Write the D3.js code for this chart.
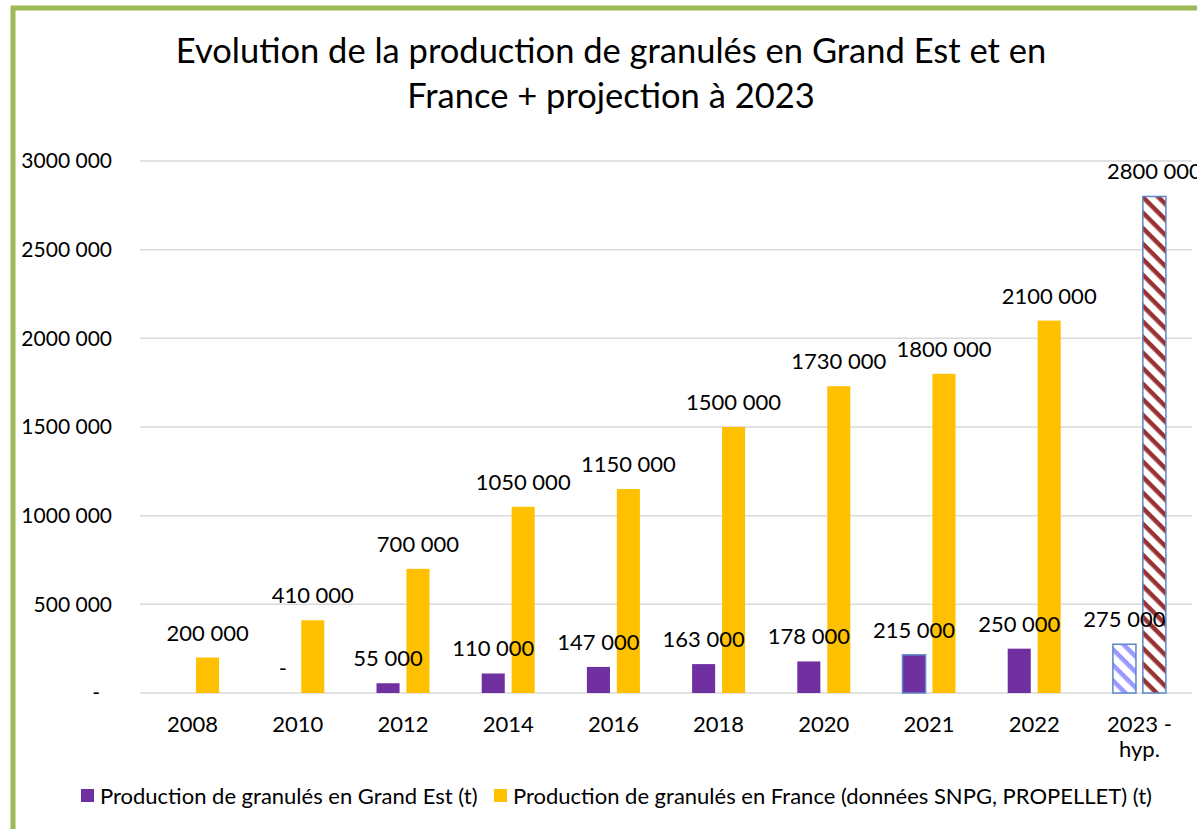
<!doctype html>
<meta charset="utf-8">
<head>
<script src="https://d3js.org/d3.v7.min.js"></script>
<style>
  body { margin: 0; background: #fff; }
  text { font-family: Lato, "Open Sans", sans-serif; fill: #000; }
</style>
</head>
<body>
<svg width="1197" height="829"></svg>
<script>
    // chart values
    let years = ["2008", "2010", "2012", "2014", "2016", "2018", "2020", "2021", "2022", "2023 - hyp."];
    let grandEst = [null, 0, 55000, 110000, 147000, 163000, 178000, 215000, 250000, 275000];
    let france = [200000, 410000, 700000, 1050000, 1150000, 1500000, 1730000, 1800000, 2100000, 2800000];
    let yTicks = [0, 500000, 1000000, 1500000, 2000000, 2500000, 3000000];
    let seriesNames = ["Production de granulés en Grand Est (t)",
                       "Production de granulés en France (données SNPG, PROPELLET) (t)"];
    let projected = ["2023 - hyp."];
    let outlined = ["2021"];

    let svg = d3.select("svg");
    let fs = 22;

    // green frame
    svg.append("rect")
        .attr("x", 13).attr("y", 8)
        .attr("width", 1300).attr("height", 900)
        .attr("fill", "none")
        .attr("stroke", "#9BBB59")
        .attr("stroke-width", 5);

    // hatch patterns for the projected year
    let defs = svg.append("defs");
    let hatch = (id, color) => {
        let p = defs.append("pattern")
            .attr("id", id)
            .attr("patternUnits", "userSpaceOnUse")
            .attr("width", 11).attr("height", 11)
            .attr("patternTransform", "rotate(45)");
        p.append("rect").attr("width", 11).attr("height", 11).attr("fill", "#fff");
        p.append("rect").attr("width", 11).attr("height", 4.5).attr("fill", color);
    };
    hatch("hatch-ge", "#9999FF");
    hatch("hatch-fr", "#993333");

    // title
    let title = svg.append("text")
        .attr("text-anchor", "middle")
        .attr("font-size", 34.5);
    title.append("tspan").attr("x", 611).attr("y", 63)
        .text("Evolution de la production de granulés en Grand Est et en");
    title.append("tspan").attr("x", 611).attr("y", 108)
        .text("France + projection à 2023");

    let fmt = (v) => {
        if (v === 0) return "-";
        if (v < 1000) return String(v);
        return Math.floor(v / 1000) + " " + String(v % 1000).padStart(3, "0");
    };

    let x = d3.scaleBand().domain(years).range([140, 1192]);
    let y = d3.scaleLinear().domain([0, 3000000]).range([693, 161]);
    let x1 = d3.scaleBand().domain(["ge", "fr"]).range([-26.5, 26.5]).paddingInner(0.23);

    // gridlines
    svg.append("g").selectAll("line")
        .data(yTicks)
        .enter().append("line")
        .attr("x1", 140).attr("x2", 1192)
        .attr("y1", (d) => y(d)).attr("y2", (d) => y(d))
        .attr("stroke", "#D9D9D9")
        .attr("stroke-width", 1.5);

    // y axis labels
    let yAxis = svg.append("g")
        .attr("transform", "translate(112,0)")
        .call(d3.axisLeft(y).tickValues(yTicks).tickFormat(fmt).tickSize(0).tickPadding(0));
    yAxis.select(".domain").remove();
    yAxis.selectAll("text")
        .attr("font-size", 21)
        .attr("font-family", "Lato")
        .attr("fill", "#000")
        .attr("dx", (d) => d === 0 ? -12 : 0);

    // x axis labels
    let xAxis = svg.append("g")
        .attr("transform", "translate(0,693)")
        .call(d3.axisBottom(x).tickSize(0).tickFormat(""));
    xAxis.select(".domain").remove();
    xAxis.selectAll(".tick").each(function(d) {
        let parts = d.split(" - ");
        let t = d3.select(this).append("text")
            .attr("text-anchor", "middle")
            .attr("font-size", fs);
        parts.forEach((p, i) => {
            t.append("tspan")
                .attr("x", 0)
                .attr("y", 39 + i * 25)
                .text(i === 0 && parts.length > 1 ? p + " -" : p);
        });
    });

    let rows = years.map((yr, i) => ({ year: yr, ge: grandEst[i], fr: france[i] }));
    let colors = { ge: "#7030A0", fr: "#FFC000" };
    let keys = ["ge", "fr"];

    // bars first
    keys.forEach((key) => {
        let data = rows.filter((d) => d[key] !== null);
        svg.append("g").selectAll("rect")
            .data(data)
            .enter().append("rect")
            .attr("x", (d) => x(d.year) + x.bandwidth() / 2 + x1(key))
            .attr("width", x1.bandwidth())
            .attr("y", (d) => y(d[key]))
            .attr("height", (d) => y(0) - y(d[key]))
            .attr("fill", (d) => projected.includes(d.year) ? "url(#hatch-" + key + ")" : colors[key])
            .attr("stroke", (d) => {
                if (projected.includes(d.year)) return "#5B87C8";
                if (key === "ge" && outlined.includes(d.year)) return "#5B87C8";
                return "none";
            })
            .attr("stroke-width", 1.5);
    });

    // then data labels on top
    keys.forEach((key) => {
        let data = rows.filter((d) => d[key] !== null);
        svg.append("g").selectAll("text")
            .data(data)
            .enter().append("text")
            .attr("text-anchor", "middle")
            .attr("font-size", fs)
            .attr("x", (d) => x(d.year) + x.bandwidth() / 2 + x1(key) + x1.bandwidth() / 2)
            .attr("y", (d) => y(d[key]) - 17)
            .text((d) => fmt(d[key]));
    });

    // legend
    let legend = svg.append("g");
    let lx = [81, 494];
    seriesNames.forEach((name, i) => {
        legend.append("rect")
            .attr("x", lx[i]).attr("y", 789)
            .attr("width", 13).attr("height", 13)
            .attr("fill", i === 0 ? colors.ge : colors.fr);
        legend.append("text")
            .attr("x", lx[i] + 19).attr("y", 804)
            .attr("font-size", fs)
            .text(name);
    });
</script>
</body>
